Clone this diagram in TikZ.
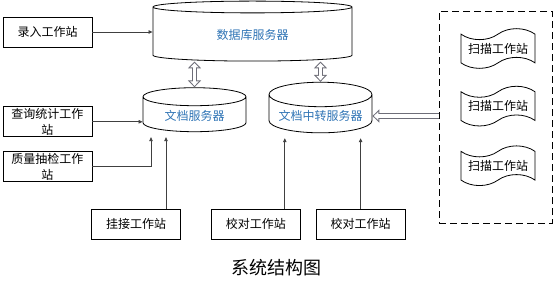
\documentclass[tikz,border=0pt]{standalone}
\usepackage{fontspec}
\setmainfont{Noto Sans CJK SC}
\usetikzlibrary{arrows.meta,positioning,shapes.geometric,shapes.symbols}
\definecolor{srvblue}{HTML}{2F74B5}
\definecolor{arrgray}{HTML}{6E6E78}

\begin{document}
\begin{tikzpicture}[
    x=1pt, y=1pt,
    font=\fontsize{12}{16}\selectfont,
    station/.style={draw, line width=0.8pt, minimum width=89pt, minimum height=30pt, align=center, inner sep=1pt},
    server/.style={cylinder, shape border rotate=90, draw, line width=0.8pt, text=srvblue},
    scanner/.style={tape, draw, line width=0.8pt, minimum width=74pt, minimum height=37pt, tape bend height=11pt},
    arr/.style={draw=black!75, line width=0.8pt, -{Triangle[length=4pt,width=3.5pt]}},
    hollow/.style={line width=5.5pt, draw=arrgray, -{Triangle[length=7pt,width=13pt]},
      postaction={draw=white, line width=3.5pt, shorten >=1.5pt, -{Triangle[length=4.5pt,width=8.4pt]}}},
    dhollow/.style={line width=5.5pt, draw=arrgray, {Triangle[length=7pt,width=13pt]}-{Triangle[length=7pt,width=13pt]},
      postaction={draw=white, line width=3.5pt, shorten >=1.5pt, shorten <=1.5pt, {Triangle[length=4.5pt,width=8.4pt]}-{Triangle[length=4.5pt,width=8.4pt]}}}
  ]
    \useasboundingbox (0,0) rectangle (555,-287);

    % Servers
    \node[server, minimum width=199pt, minimum height=60pt, aspect=0.15] (db) at (252.5,-35) {数据库服务器};
    \node[server, minimum width=103pt, minimum height=44pt, aspect=0.27] (doc) at (194.5,-116) {文档服务器};
    \node[server, minimum width=103pt, minimum height=44pt, aspect=0.27] (relay) at (320.5,-116) {文档中转服务器};

    % Workstations on the left
    \node[station] (entry) at (47.5,-32) {录入工作站};
    \node[station, below=59pt of entry] (query) {查询统计工作\\站};
    \node[station, below=14pt of query] (check) {质量抽检工作\\站};

    % Workstations at the bottom
    \node[station] (mount) at (136,-224) {挂接工作站};
    \node[station, right=30pt of mount] (proof) {校对工作站};
    \node[station, right=15pt of proof] (proofb) {校对工作站};

    % Scanning group
    \node[draw, line width=1pt, dash pattern=on 7pt off 4pt, minimum width=113pt, minimum height=212pt] (scan) at (495.5,-117) {};
    \node[scanner] (scana) at (498,-48.5) {扫描工作站};
    \node[scanner, below=28pt of scana] (scanb) {扫描工作站};
    \node[scanner, below=30pt of scanb] (scanc) {扫描工作站};

    \node[font=\fontsize{18}{20}\selectfont] (title) at (276,-268) {系统结构图};

    % Edges
    \draw[arr] (entry.east) -- (entry.east -| db.west);
    \draw[arr] (query.east) -- (query.east -| doc.west);
    \draw[arr, shorten >=5pt] (check.east) -| ([xshift=-43.5pt]doc.south);
    \draw[arr, shorten >=5pt] ([xshift=30pt]mount.north) -- ([xshift=30pt]mount.north |- doc.south);
    \draw[arr, shorten >=5pt] ([xshift=29pt]proof.north) -- ([xshift=29pt]proof.north |- relay.south);
    \draw[arr, shorten >=5pt] (proofb.north) -- (proofb.north |- relay.south);
    \draw[dhollow] (doc.north) -- (doc.north |- db.south);
    \draw[dhollow] (relay.north) -- (relay.north |- db.south);
    \draw[hollow] (relay.east -| scan.west) -- (relay.east);
  \end{tikzpicture}
\end{document}
